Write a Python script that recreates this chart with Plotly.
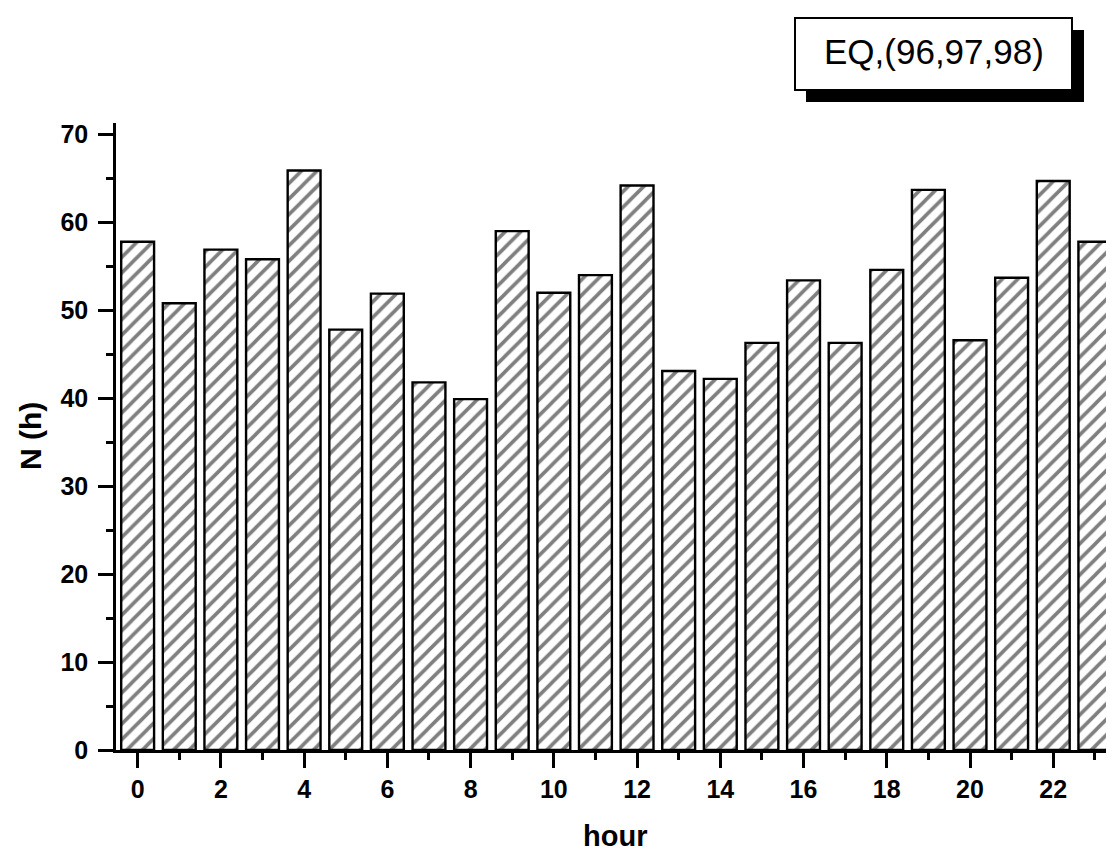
import plotly.graph_objects as go

hours = list(range(24))
counts = [57.8, 50.8, 56.9, 55.8, 65.9, 47.8, 51.9, 41.8, 39.9, 59.0, 52.0, 54.0,
          64.2, 43.1, 42.2, 46.3, 53.4, 46.3, 54.6, 63.7, 46.6, 53.7, 64.7, 57.8]
x_ticks = list(range(0, 24, 2))
y_ticks = list(range(0, 80, 10))
legend_text = "EQ,(96,97,98)"
x_title = "hour"
y_title = "N (h)"

OFF = 8  # page body margin
W, H = 1114 - OFF, 852 - OFF
L, R, T, B = 108, 0, 115, 102
pw, ph = W - L - R, H - T - B

def px(x):
    return (x - OFF - L) / pw

def py(y):
    return (H - B - (y - OFF)) / ph

fig = go.Figure()
fig.add_trace(go.Bar(
    x=hours, y=counts,
    marker=dict(color="white",
                line=dict(color="black", width=2.4),
                pattern=dict(shape="/", fgcolor="black", bgcolor="white",
                             size=11, solidity=0.33)),
    width=0.79, showlegend=False,
))

tickfont = dict(family="Liberation Sans, Arial, sans-serif", size=25, color="black", weight="bold")

fig.update_layout(
    width=W, height=H,
    margin=dict(l=L, r=R, t=T, b=B, pad=0),
    paper_bgcolor="white", plot_bgcolor="white",
    xaxis=dict(range=[-0.52, 23.46], tickvals=x_ticks, ticktext=[str(v) for v in x_ticks],
               ticks="outside", ticklen=15, tickwidth=2.5, tickcolor="black",
               showline=True, linecolor="black", linewidth=2.5, showgrid=False, zeroline=False,
               tickfont=tickfont, ticklabelstandoff=0,
               minor=dict(dtick=1, tick0=1, ticks="outside", ticklen=7, tickwidth=2.5,
                          tickcolor="black", showgrid=False)),
    yaxis=dict(range=[0, 71.3], tickvals=y_ticks, ticktext=[str(v) for v in y_ticks],
               ticks="outside", ticklen=15, tickwidth=2.5, tickcolor="black",
               showline=True, linecolor="black", linewidth=2.5, showgrid=False, zeroline=False,
               tickfont=tickfont, ticklabelstandoff=5,
               minor=dict(dtick=5, tick0=5, ticks="outside", ticklen=7, tickwidth=2.5,
                          tickcolor="black", showgrid=False)),
)

fig.add_annotation(text=x_title, xref="paper", yref="paper", x=px(615), y=py(836),
                   showarrow=False, xanchor="center", yanchor="middle",
                   font=dict(family="Liberation Sans, Arial, sans-serif", size=29, color="black", weight="bold"))
fig.add_annotation(text=y_title, xref="paper", yref="paper", x=px(30), y=py(436),
                   showarrow=False, xanchor="center", yanchor="middle", textangle=-90,
                   font=dict(family="Liberation Sans, Arial, sans-serif", size=30, color="black", weight="bold"))

# legend box with shadow
fig.add_shape(type="rect", xref="paper", yref="paper",
              x0=px(806), x1=px(1084), y0=py(102), y1=py(30),
              fillcolor="black", line=dict(color="black", width=0), layer="above")
fig.add_shape(type="rect", xref="paper", yref="paper",
              x0=px(795), x1=px(1072), y0=py(90), y1=py(18),
              fillcolor="white", line=dict(color="black", width=2), layer="above")
fig.add_annotation(text=legend_text, xref="paper", yref="paper", x=px(934), y=py(52),
                   showarrow=False, xanchor="center", yanchor="middle",
                   font=dict(family="Liberation Sans, Arial, sans-serif", size=35, color="black"))

fig.write_html("out.html")
